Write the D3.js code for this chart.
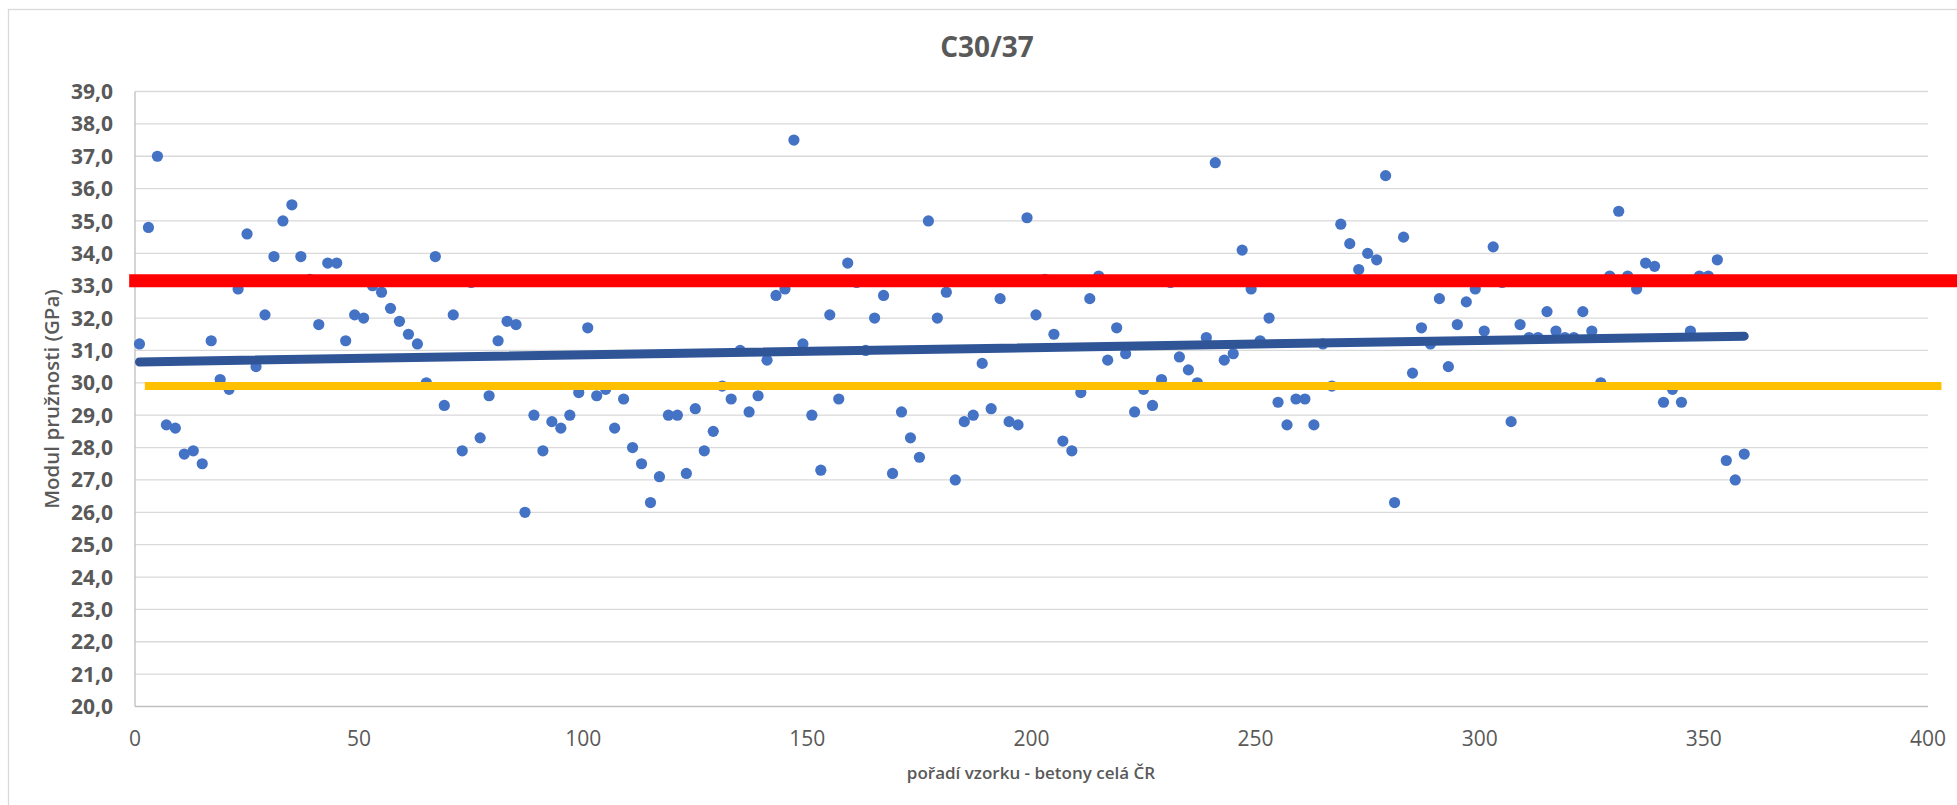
<!DOCTYPE html>
<html>
<head>
<meta charset="utf-8">
<script src="https://cdn.jsdelivr.net/npm/d3@7"></script>
<style>
  body { margin: 0; background: #fff; }
  text { fill: #595959; }
</style>
</head>
<body>
<div id="chart"></div>
<script>
// sample order (x) and measured modulus values (GPa)
var sampleNo = [1,3,5,7,9,11,13,15,17,19,21,23,25,27,29,31,33,35,37,39,
  41,43,45,47,49,51,53,55,57,59,61,63,65,67,69,71,73,75,77,79,
  81,83,85,87,89,91,93,95,97,99,101,103,105,107,109,111,113,115,117,119,
  121,123,125,127,129,131,133,135,137,139,141,143,145,147,149,151,153,155,157,159,
  161,163,165,167,169,171,173,175,177,179,181,183,185,187,189,191,193,195,197,199,
  201,203,205,207,209,211,213,215,217,219,221,223,225,227,229,231,233,235,237,239,
  241,243,245,247,249,251,253,255,257,259,261,263,265,267,269,271,273,275,277,279,
  281,283,285,287,289,291,293,295,297,299,301,303,305,307,309,311,313,315,317,319,
  321,323,325,327,329,331,333,335,337,339,341,343,345,347,349,351,353,355,357,359];

var modulus = [31.2,34.8,37.0,28.7,28.6,27.8,27.9,27.5,31.3,30.1,29.8,32.9,34.6,30.5,32.1,33.9,35.0,35.5,33.9,33.2,
  31.8,33.7,33.7,31.3,32.1,32.0,33.0,32.8,32.3,31.9,31.5,31.2,30.0,33.9,29.3,32.1,27.9,33.1,28.3,29.6,
  31.3,31.9,31.8,26.0,29.0,27.9,28.8,28.6,29.0,29.7,31.7,29.6,29.8,28.6,29.5,28.0,27.5,26.3,27.1,29.0,
  29.0,27.2,29.2,27.9,28.5,29.9,29.5,31.0,29.1,29.6,30.7,32.7,32.9,37.5,31.2,29.0,27.3,32.1,29.5,33.7,
  33.1,31.0,32.0,32.7,27.2,29.1,28.3,27.7,35.0,32.0,32.8,27.0,28.8,29.0,30.6,29.2,32.6,28.8,28.7,35.1,
  32.1,33.2,31.5,28.2,27.9,29.7,32.6,33.3,30.7,31.7,30.9,29.1,29.8,29.3,30.1,33.1,30.8,30.4,30.0,31.4,
  36.8,30.7,30.9,34.1,32.9,31.3,32.0,29.4,28.7,29.5,29.5,28.7,31.2,29.9,34.9,34.3,33.5,34.0,33.8,36.4,
  26.3,34.5,30.3,31.7,31.2,32.6,30.5,31.8,32.5,32.9,31.6,34.2,33.1,28.8,31.8,31.4,31.4,32.2,31.6,31.4,
  31.4,32.2,31.6,30.0,33.3,35.3,33.3,32.9,33.7,33.6,29.4,29.8,29.4,31.6,33.3,33.3,33.8,27.6,27.0,27.8];

// reference lines: [x start, x end], value
var redLineX = [-1.3, 420];
var redLineValue = 33.15;
var yellowLineX = [2.2, 403];
var yellowLineValue = 29.9;

var xTicks = [0, 50, 100, 150, 200, 250, 300, 350, 400];
var yTicks = d3.range(20, 40, 1);

var chartTitle = "C30/37";
var xTitle = "pořadí vzorku - betony celá ČR";
var yTitle = "Modul pružnosti (GPa)";

var W = 1957, H = 805;
var x = d3.scaleLinear().domain([0, 400]).range([135, 1928]);
var y = d3.scaleLinear().domain([20, 39]).range([706.5, 91.5]);

var svg = d3.select("#chart").append("svg")
  .attr("width", W)
  .attr("height", H);

// chart border
svg.append("rect")
  .attr("x", 8.5).attr("y", 9.5)
  .attr("width", W + 20).attr("height", H + 20)
  .style("fill", "none")
  .style("stroke", "#d9d9d9")
  .style("stroke-width", 1.3);

// gridlines
svg.append("g").selectAll("line").data(yTicks.slice(1))
  .enter().append("line")
  .attr("x1", x(0)).attr("x2", x(400))
  .attr("y1", function(d){ return y(d); })
  .attr("y2", function(d){ return y(d); })
  .style("stroke", "#d9d9d9")
  .style("stroke-width", 1.3);

// axes lines
svg.append("line")
  .attr("x1", x(0)).attr("x2", x(400))
  .attr("y1", y(20)).attr("y2", y(20))
  .style("stroke", "#bfbfbf").style("stroke-width", 1.3);
svg.append("line")
  .attr("x1", x(0)).attr("x2", x(0))
  .attr("y1", y(20)).attr("y2", y(39))
  .style("stroke", "#bfbfbf").style("stroke-width", 1.3);

// y tick labels
var fmt = d3.format(".1f");
svg.append("g").selectAll("text").data(yTicks)
  .enter().append("text")
  .attr("x", 113)
  .attr("y", function(d){ return y(d); })
  .attr("dy", "0.36em")
  .attr("text-anchor", "end")
  .style("font-family", "Open Sans")
  .style("font-weight", "bold")
  .style("font-size", "21px")
  .text(function(d){ return fmt(d).replace(".", ","); });

// x tick labels
svg.append("g").selectAll("text").data(xTicks)
  .enter().append("text")
  .attr("x", function(d){ return x(d); })
  .attr("y", 738)
  .attr("dy", "0.36em")
  .attr("text-anchor", "middle")
  .style("font-family", "Open Sans")
  .style("font-size", "21px")
  .text(function(d){ return d; });

// points
var pts = sampleNo.map(function(d, i){ return [d, modulus[i]]; });
svg.append("g").selectAll("circle").data(pts)
  .enter().append("circle")
  .attr("cx", function(d){ return x(d[0]); })
  .attr("cy", function(d){ return y(d[1]); })
  .attr("r", 5.6)
  .style("fill", "#4472C4");

// linear trend line (least squares)
var mx = d3.mean(sampleNo), my = d3.mean(modulus);
var sxy = d3.sum(pts, function(d){ return (d[0]-mx)*(d[1]-my); });
var sxx = d3.sum(sampleNo, function(d){ return (d-mx)*(d-mx); });
var slope = sxy / sxx, icpt = my - slope * mx;
var xExt = d3.extent(sampleNo);
var line = d3.line().x(function(d){ return x(d[0]); }).y(function(d){ return y(d[1]); });

svg.append("path")
  .datum(xExt.map(function(v){ return [v, icpt + slope * v]; }))
  .attr("d", line)
  .style("fill", "none")
  .style("stroke", "#2F5597")
  .style("stroke-width", 9)
  .style("stroke-linecap", "round");

svg.append("path")
  .datum(yellowLineX.map(function(v){ return [v, yellowLineValue]; }))
  .attr("d", line)
  .style("fill", "none")
  .style("stroke", "#FFC000")
  .style("stroke-width", 8);

svg.append("path")
  .datum(redLineX.map(function(v){ return [v, redLineValue]; }))
  .attr("d", line)
  .style("fill", "none")
  .style("stroke", "#FF0000")
  .style("stroke-width", 13);

// titles
svg.append("text")
  .attr("x", 987).attr("y", 47)
  .attr("dy", "0.36em")
  .attr("text-anchor", "middle")
  .style("font-family", "Open Sans")
  .style("font-weight", "bold")
  .style("font-size", "28px")
  .text(chartTitle);

svg.append("text")
  .attr("x", 1031).attr("y", 773)
  .attr("dy", "0.36em")
  .attr("text-anchor", "middle")
  .style("font-family", "Open Sans")
  .style("font-weight", 600)
  .style("font-size", "17px")
  .text(xTitle);

svg.append("text")
  .attr("transform", "translate(52,399) rotate(-90)")
  .attr("dy", "0.36em")
  .attr("text-anchor", "middle")
  .style("font-family", "Open Sans")
  .style("font-weight", 600)
  .style("font-size", "20.5px")
  .text(yTitle);
</script>
</body>
</html>
